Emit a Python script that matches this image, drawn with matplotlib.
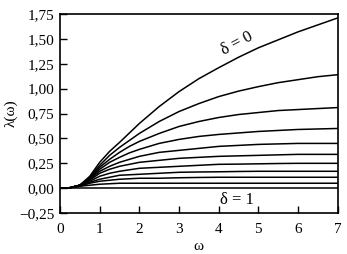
import matplotlib
matplotlib.use("Agg")
import matplotlib.pyplot as plt
from matplotlib.ticker import FuncFormatter

plt.rcParams['font.family'] = 'serif'
plt.rcParams['font.serif'] = ['Liberation Serif', 'DejaVu Serif']

# частоты (ось x)
omega = [0, 0.25, 0.5, 0.75, 1.0, 1.25, 1.5, 1.75, 2.0, 2.5, 3.0, 3.5, 4.0,
         4.5, 5.0, 5.5, 6.0, 6.5, 7.0]

# значения delta для кривых: 0; 0,1; ... ; 1
deltas = [0.0, 0.1, 0.2, 0.3, 0.4, 0.5, 0.6, 0.7, 0.8, 0.9, 1.0]

# lambda(omega) для каждой delta
lam_d00 = [0, 0.005, 0.03, 0.12, 0.26, 0.37, 0.46, 0.555, 0.65, 0.82, 0.97, 1.10, 1.21,
           1.315, 1.41, 1.49, 1.57, 1.64, 1.71]
lam_d01 = [0, 0.005, 0.03, 0.11, 0.23, 0.33, 0.41, 0.48, 0.55, 0.67, 0.77, 0.85, 0.92,
           0.975, 1.02, 1.06, 1.09, 1.12, 1.14]
lam_d02 = [0, 0.005, 0.03, 0.10, 0.21, 0.29, 0.36, 0.42, 0.47, 0.55, 0.62, 0.67, 0.71,
           0.74, 0.76, 0.78, 0.79, 0.80, 0.81]
lam_d03 = [0, 0.005, 0.03, 0.10, 0.19, 0.26, 0.31, 0.355, 0.39, 0.45, 0.49, 0.52, 0.54,
           0.555, 0.57, 0.58, 0.59, 0.595, 0.60]
lam_d04 = [0, 0.005, 0.03, 0.09, 0.17, 0.22, 0.26, 0.29, 0.32, 0.36, 0.38, 0.40, 0.42,
           0.43, 0.44, 0.445, 0.45, 0.45, 0.45]
lam_d05 = [0, 0.005, 0.03, 0.08, 0.15, 0.19, 0.22, 0.24, 0.26, 0.28, 0.30, 0.31, 0.32,
           0.325, 0.33, 0.335, 0.34, 0.34, 0.34]
lam_d06 = [0, 0.005, 0.03, 0.07, 0.12, 0.15, 0.17, 0.185, 0.20, 0.21, 0.22, 0.23, 0.24,
           0.242, 0.245, 0.248, 0.25, 0.25, 0.25]
lam_d07 = [0, 0.005, 0.03, 0.06, 0.09, 0.11, 0.13, 0.135, 0.14, 0.15, 0.16, 0.163, 0.165,
           0.168, 0.17, 0.17, 0.17, 0.17, 0.17]
lam_d08 = [0, 0.005, 0.02, 0.05, 0.07, 0.08, 0.09, 0.095, 0.10, 0.10, 0.105, 0.108, 0.11,
           0.11, 0.11, 0.11, 0.11, 0.11, 0.11]
lam_d09 = [0, 0.005, 0.02, 0.03, 0.04, 0.045, 0.05, 0.05, 0.05, 0.05, 0.05, 0.05, 0.05,
           0.05, 0.05, 0.05, 0.05, 0.05, 0.05]
lam_d10 = [0, 0, 0, 0, 0, 0, 0, 0, 0, 0, 0, 0, 0, 0, 0, 0, 0, 0, 0]

curves = [lam_d00, lam_d01, lam_d02, lam_d03, lam_d04, lam_d05,
          lam_d06, lam_d07, lam_d08, lam_d09, lam_d10]

x_ticks = [0, 1, 2, 3, 4, 5, 6, 7]
y_ticks = [-0.25, 0.0, 0.25, 0.5, 0.75, 1.0, 1.25, 1.5, 1.75]

fig = plt.figure(figsize=(3.47, 2.54), dpi=100, facecolor='white')
ax = fig.add_axes([0.173, 0.161, 0.800, 0.784])

for lam in curves:
    ax.plot(omega, lam, color='black', linewidth=1.1)

ax.set_xlim(0, 7)
ax.set_ylim(-0.25, 1.75)
ax.set_xticks(x_ticks)
ax.set_yticks(y_ticks)
ax.yaxis.set_major_formatter(FuncFormatter(lambda v, p: f"{v:.2f}".replace('.', ',').replace('-', '\u2212')))
ax.xaxis.set_major_formatter(FuncFormatter(lambda v, p: f"{v:.0f}"))
ax.tick_params(axis='both', direction='in', length=5, width=1, labelsize=11,
               top=False, right=False)
ax.tick_params(axis='x', pad=7)
ax.tick_params(axis='y', pad=4)
for s in ax.spines.values():
    s.set_linewidth(1.2)

ax.set_xlabel('ω', fontsize=11, labelpad=3)
ax.set_ylabel('λ(ω)', fontsize=11, labelpad=1)

# подписи кривых
ax.text(4.46, 1.45, 'δ = 0', fontsize=12, rotation=28, ha='center', va='center')
ax.text(4.45, -0.12, 'δ = 1', fontsize=12, ha='center', va='center')

fig.savefig('out.png', dpi=100, facecolor='white')
